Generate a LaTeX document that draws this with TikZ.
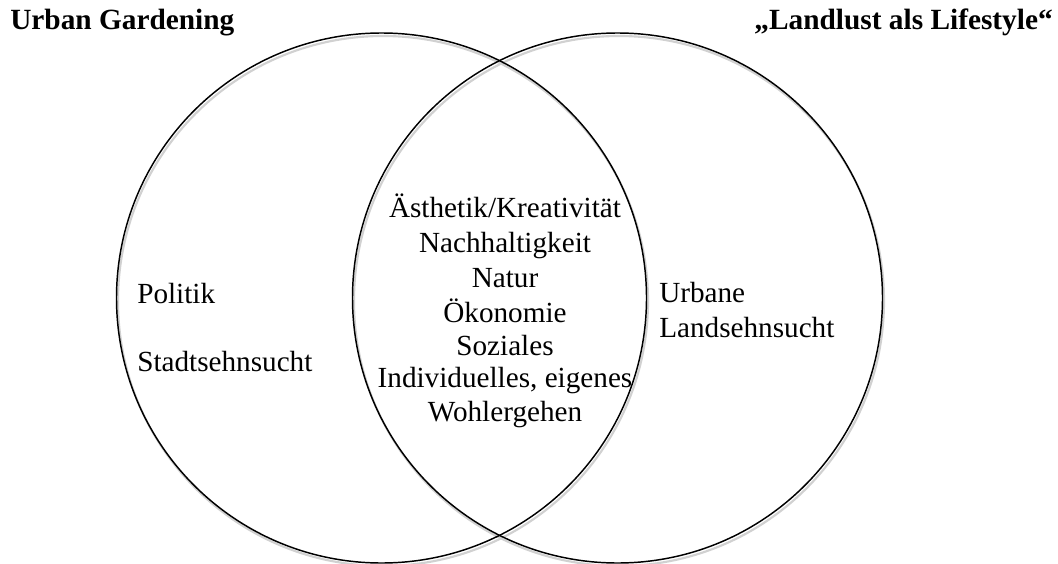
\documentclass[tikz,border=0pt]{standalone}
\usepackage{fontspec}
\setmainfont{Liberation Serif}
\usetikzlibrary{positioning}
\tikzset{
  venn/.style = {circle, draw, line width=1.1pt, minimum size=397.5pt, inner sep=0pt},
  venn shadow/.style = {venn, draw=black!18, line width=1.6pt},
  title/.style = {font=\fontsize{22}{26}\selectfont\bfseries, inner sep=0pt},
  item/.style = {font=\fontsize{21.9}{25.5}\selectfont, inner sep=0pt}
}

\begin{document}
\begin{tikzpicture}[x=0.75pt,y=-0.75pt]
  \useasboundingbox (0,0) rectangle (1058,564);

  % the two sets, shadow first
  \node[venn shadow] (gardening shadow) at (383,301) {};
  \node[venn shadow] (landlust shadow) at (619,301) {};
  \node[venn] (gardening) at (381.5,298) {};
  \node[venn] (landlust) at (617.5,298) {};

  \node[title, anchor=base west] (gardening title) at (10,30) {Urban Gardening};
  \node[title, anchor=base east] (landlust title) at (1053,30) {„Landlust als Lifestyle“};

  % left only
  \node[item, anchor=base west] (politik) at (137,303) {Politik};
  \node[item, anchor=base west] (stadt) at (137,371) {Stadtsehnsucht};

  % right only
  \node[item, anchor=base west] (urbane) at (659,302) {Urbane};
  \node[item, anchor=base west] (landsehn) at (659,337) {Landsehnsucht};

  % overlap
  \foreach \y/\txt [count=\i] in {217/{Ästhetik/Kreativität}, 252/{Nachhaltigkeit},
      287/{Natur}, 322/{Ökonomie}, 355/{Soziales}, 387/{Individuelles, eigenes},
      421/{Wohlergehen}}
    \node[item, anchor=base] (common\i) at (505,\y) {\txt};
\end{tikzpicture}
\end{document}
